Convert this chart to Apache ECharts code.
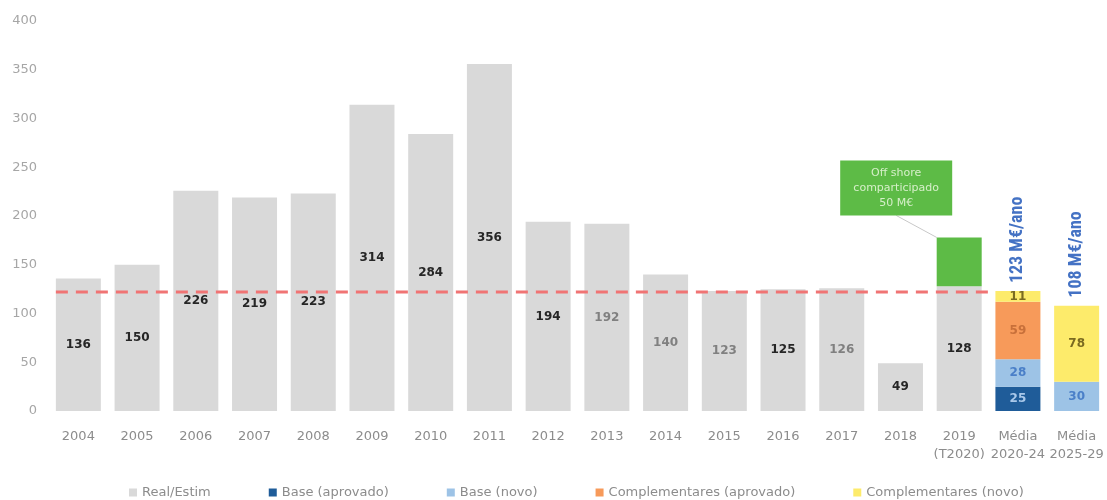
<!DOCTYPE html>
<html><head><meta charset="utf-8">
<script src="https://cdn.jsdelivr.net/npm/echarts@6/dist/echarts.min.js"></script>
<style>html,body{margin:0;padding:0;background:#fff}#c{width:1107px;height:500px}</style>
</head><body><div id="c"></div>
<script>
const categories = ['2004','2005','2006','2007','2008','2009','2010','2011','2012','2013','2014','2015','2016','2017','2018','2019\n(T2020)','Média\n2020-24','Média\n2025-29'];
const realEstim = [136,150,226,219,223,314,284,356,194,192,140,123,125,126,49,128,null,null];
const offshore = [null,null,null,null,null,null,null,null,null,null,null,null,null,null,null,50,null,null];
const baseAprovado = [null,null,null,null,null,null,null,null,null,null,null,null,null,null,null,null,25,null];
const baseNovo = [null,null,null,null,null,null,null,null,null,null,null,null,null,null,null,null,28,30];
const compAprovado = [null,null,null,null,null,null,null,null,null,null,null,null,null,null,null,null,59,null];
const compNovo = [null,null,null,null,null,null,null,null,null,null,null,null,null,null,null,null,11,78];
const referenceLevel = 122;
const refLineSpan = [-0.383, 15.617];
const yTicks = { min: 0, max: 400, interval: 50 };
const mutedLabelIdx = [9,10,11,13];

const totals = categories.map((c,i)=> i>=16 ? [baseAprovado,baseNovo,compAprovado,compNovo].reduce((s,a)=>s+(a[i]||0),0) : null);

const font = 'DejaVu Sans';
const BW = 45;
const chart = echarts.init(document.getElementById('c'));
const segLabel = (color)=>({show:true, position:'inside', color, fontFamily:font, fontSize:12, fontWeight:'bold'});

chart.setOption({
  animation:false,
  textStyle:{fontFamily:font},
  grid:{left:49, right:1, top:21, bottom:89},
  legend:{
    data:['Real/Estim','Base (aprovado)','Base (novo)','Complementares (aprovado)','Complementares (novo)'],
    top:486, left:129, itemWidth:8, itemHeight:8, itemGap:58, icon:'rect', padding:0,
    textStyle:{color:'#8c8c8c', fontSize:13, fontFamily:font}
  },
  xAxis:[{
    type:'category', data:categories,
    axisLine:{show:false}, axisTick:{show:false},
    axisLabel:{color:'#8c8c8c', fontSize:13, lineHeight:18, margin:17, fontFamily:font, interval:0}
  },{
    type:'value', min:-0.5, max:17.5, show:false
  }],
  yAxis:{type:'value', min:yTicks.min, max:yTicks.max, interval:yTicks.interval,
    axisLine:{show:false}, axisTick:{show:false}, splitLine:{show:false},
    axisLabel:{color:'#a6a6a6', fontSize:13, margin:12, fontFamily:font}},
  series:[
    {name:'Real/Estim', type:'bar', stack:'a', barWidth:BW, barGap:'-100%',
     itemStyle:{color:'#d9d9d9'},
     data: realEstim.map((v,i)=> v==null ? null : ({value:v, label:{color: mutedLabelIdx.includes(i)?'#808080':'#262626'}})),
     label:segLabel('#262626')},
    {name:'Offshore', type:'bar', stack:'a', barWidth:BW, barGap:'-100%',
     itemStyle:{color:'#5dbb46'}, data:offshore,
     label:{show:true, position:'top', formatter:'Off shore\ncomparticipado\n50 M€',
       backgroundColor:'#5dbb46', color:'#d6efc9', fontSize:11, lineHeight:15, padding:[5,10],
       fontFamily:font, width:92, align:'center'},
     labelLayout:{dx:-63, dy:-17},
     labelLine:{show:true, lineStyle:{color:'#c8c8c8', width:1}}},
    {name:'Base (aprovado)', type:'bar', stack:'a', barWidth:BW, barGap:'-100%',
     itemStyle:{color:'#1f5c99'}, data:baseAprovado, label:segLabel('#a9c8ea')},
    {name:'Base (novo)', type:'bar', stack:'a', barWidth:BW, barGap:'-100%',
     itemStyle:{color:'#9dc3e6'}, data:baseNovo, label:segLabel('#4a7fc8')},
    {name:'Complementares (aprovado)', type:'bar', stack:'a', barWidth:BW, barGap:'-100%',
     itemStyle:{color:'#f79a5a'}, data:compAprovado, label:segLabel('#c8703a')},
    {name:'Complementares (novo)', type:'bar', stack:'a', barWidth:BW, barGap:'-100%',
     itemStyle:{color:'#fdeb6b'}, data:compNovo, label:segLabel('#7a6a20')},
    {name:'Total', type:'bar', barWidth:BW, barGap:'-100%', silent:true,
     itemStyle:{color:'rgba(0,0,0,0)'}, data:totals,
     label:{show:true, position:'top', rotate:90, align:'left', verticalAlign:'middle', distance:8,
       formatter:'{c} M€/ano', color:'#4472c4', fontSize:18, fontWeight:'bold', fontFamily:'"Liberation Sans Narrow", "Roboto Condensed", "Liberation Sans"'}},
    {name:'Ref', type:'line', xAxisIndex:1, yAxisIndex:0, symbol:'none', silent:true, z:5,
     data: refLineSpan.map(x=>[x, referenceLevel]),
     lineStyle:{color:'#f07474', width:3, type:[12,8]}}
  ]
});
</script></body></html>
